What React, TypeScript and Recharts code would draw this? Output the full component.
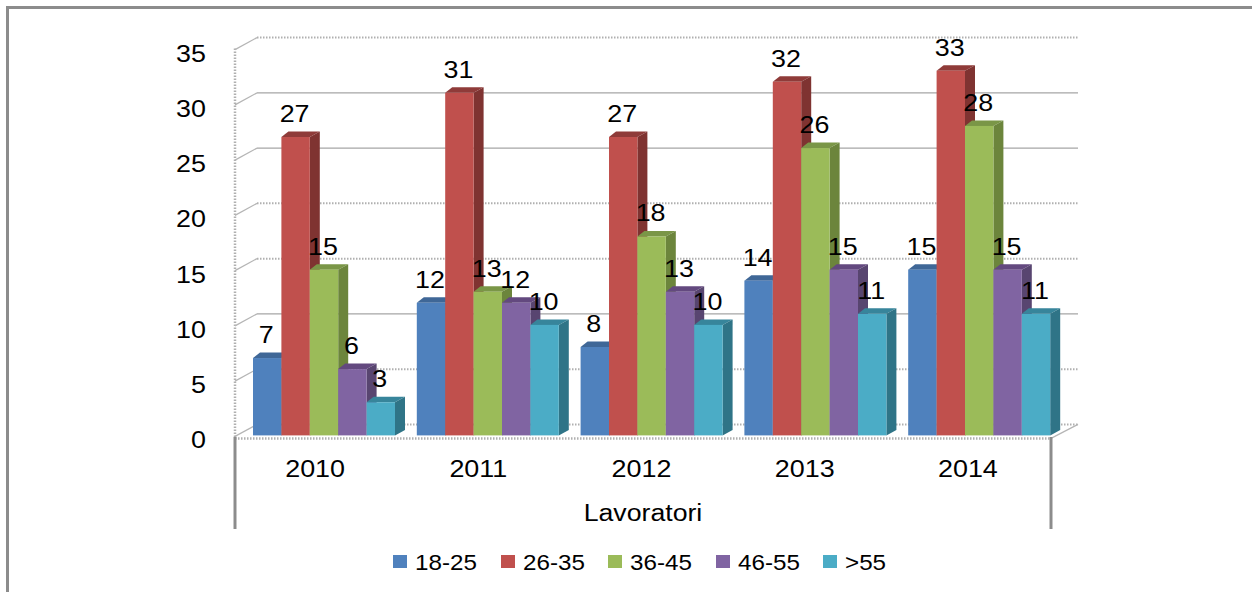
import { BarChart, Bar, XAxis, YAxis, CartesianGrid, LabelList, Legend, Label } from "recharts";

const years = ["2010", "2011", "2012", "2013", "2014"];
const age1825 = [7, 12, 8, 14, 15];
const age2635 = [27, 31, 27, 32, 33];
const age3645 = [15, 13, 18, 26, 28];
const age4655 = [6, 12, 13, 15, 15];
const over55 = [3, 10, 10, 11, 11];
const yTicks = [0, 5, 10, 15, 20, 25, 30, 35];
// gridlines that come out dotted in the original picture
const dottedTicks = [0, 5, 15, 20, 35];

const rows = years.map((year, i) => ({
  year,
  a: age1825[i],
  b: age2635[i],
  c: age3645[i],
  d: age4655[i],
  e: over55[i],
}));

const seriesList = [
  { key: "a", name: "18-25", fill: "#4f81bd", side: "#3a5f8c", top: "#3f6797" },
  { key: "b", name: "26-35", fill: "#c0504d", side: "#7f3331", top: "#8f3b39" },
  { key: "c", name: "36-45", fill: "#9bbb59", side: "#6c853c", top: "#7a9647" },
  { key: "d", name: "46-55", fill: "#8064a2", side: "#584570", top: "#63497f" },
  { key: "e", name: ">55", fill: "#4bacc6", side: "#2f7487", top: "#37859b" },
];

const FONT = "'Liberation Sans', Arial, sans-serif";
const DX = 22;
const DY = -11;
const WALL_LEFT = 235;
const WALL_RIGHT = 1051;
const PLOT_TOP = 48.6;
const PLOT_H = 386.8;
const GREY = "#8c8c8c";

function Stretched({ x, y, anchor, size = 24, stretch = 1.12, children }: any) {
  return (
    <text
      transform={`translate(${x},${y}) scale(${stretch},1)`}
      textAnchor={anchor}
      fontFamily={FONT}
      fontSize={size}
      fill="#000"
    >
      {children}
    </text>
  );
}

function Bar3D(props: any, s: any) {
  const { x, y, width, height } = props;
  const r = x + width;
  const b = y + height;
  return (
    <g>
      <polygon points={`${x},${y} ${x + 7},${y - 5.5} ${r + 10},${y - 5.5} ${r},${y}`} fill={s.top} />
      <polygon points={`${r},${y} ${r + 10},${y - 5.5} ${r + 10},${b - 5.5} ${r},${b}`} fill={s.side} />
      <rect x={x} y={y} width={width} height={height} fill={s.fill} />
    </g>
  );
}

function GridLine(props: any) {
  const { x1, y1 } = props;
  const value = Math.round(((PLOT_TOP + PLOT_H - y1) / PLOT_H) * 35);
  const dotted = dottedTicks.includes(value);
  const backY = y1 + DY;
  return (
    <g fill="none">
      <line x1={x1} y1={y1 + 1} x2={x1 + DX} y2={backY} stroke="#b5b5b5" strokeWidth={1.2} />
      <line
        x1={x1 + DX}
        y1={backY}
        x2={WALL_RIGHT + 27}
        y2={backY}
        stroke={dotted ? "#b0b0b0" : "#a6a6a6"}
        strokeWidth={dotted ? 2 : 1.2}
        strokeDasharray={dotted ? "1.5 1.5" : undefined}
      />
      {value === 0 && (
        <>
          <line x1={x1} y1={y1 + 3} x2={WALL_RIGHT} y2={y1 + 3} stroke="#b0b0b0" strokeWidth={2.5} strokeDasharray="1.5 1.5" />
          <line x1={WALL_RIGHT} y1={y1 + 3} x2={WALL_RIGHT + 27} y2={backY} stroke="#b5b5b5" strokeWidth={1.2} />
          <line x1={x1} y1={PLOT_TOP} x2={x1} y2={y1 + 3} stroke="#b0b0b0" strokeWidth={2.5} strokeDasharray="1.5 1.5" />
        </>
      )}
    </g>
  );
}

function YearTick({ x, payload, index }: any) {
  const half = (WALL_RIGHT - WALL_LEFT) / 10;
  return (
    <g>
      <Stretched x={x - 1.5} y={477} anchor="middle" size={23} stretch={1.17}>
        {payload.value}
      </Stretched>
      {index === 0 && <line x1={x - half} y1={437} x2={x - half} y2={529} stroke={GREY} strokeWidth={3} />}
      {index === years.length - 1 && <line x1={x + half} y1={437} x2={x + half} y2={529} stroke={GREY} strokeWidth={3} />}
    </g>
  );
}

function ValueTick({ x, y, payload }: any) {
  return (
    <Stretched x={x} y={y + 13} anchor="end">
      {payload.value}
    </Stretched>
  );
}

function ChartLegend({ payload }: any) {
  return (
    <div style={{ position: "relative", height: 24, fontFamily: FONT, fontSize: 22, color: "#000" }}>
      {(payload || []).map((item: any, i: number) => (
        <div key={item.value} style={{ position: "absolute", left: 393 + i * 107.5, top: 0, height: 24, whiteSpace: "nowrap" }}>
          <span style={{ position: "absolute", left: 0, top: 5, width: 14, height: 13, background: item.color }} />
          <span style={{ position: "absolute", left: 22, top: 1, lineHeight: "24px", transform: "scaleX(1.1)", transformOrigin: "left" }}>
            {item.value}
          </span>
        </div>
      ))}
    </div>
  );
}

export default function App() {
  return (
    <div style={{ position: "absolute", left: 0, top: 0, width: 1252, height: 592, overflow: "hidden", background: "#fff" }}>
      <div style={{ position: "absolute", left: 6, top: 6, right: -10, bottom: -10, borderLeft: `3px solid ${GREY}`, borderTop: `3px solid ${GREY}` }} />
      <BarChart
        width={1252}
        height={592}
        data={rows}
        barGap={0}
        barSize={28.4}
        margin={{ left: 175, right: 191, top: PLOT_TOP, bottom: 66.6 }}
        style={{ position: "absolute", left: 0, top: 0 }}
      >
        <CartesianGrid vertical={false} horizontal={(p: any) => <GridLine key={p.key} {...p} />} />
        <XAxis dataKey="year" hide padding={{ left: 7, right: 0 }} />
        <XAxis
          xAxisId="labels"
          dataKey="year"
          height={90}
          axisLine={false}
          tickLine={false}
          padding={{ left: 0, right: 10 }}
          tick={YearTick}
          interval={0}
        >
          <Label
            content={({ viewBox }: any) => (
              <Stretched x={viewBox.x + viewBox.width / 2 - 5} y={521} anchor="middle" size={23} stretch={1.16}>
                Lavoratori
              </Stretched>
            )}
          />
        </XAxis>
        <YAxis
          width={60}
          domain={[0, 35]}
          ticks={yTicks}
          interval={0}
          axisLine={false}
          tickLine={false}
          tickMargin={0}
          tick={(p: any) => <ValueTick {...p} x={206} />}
        />
        <Legend
          layout="horizontal"
          verticalAlign="middle"
          align="center"
          wrapperStyle={{ top: 550, left: 0, width: 1252 }}
          content={ChartLegend}
        />
        {seriesList.map((s) => (
          <Bar
            key={s.key}
            dataKey={s.key}
            name={s.name}
            fill={s.fill}
            isAnimationActive={false}
            shape={(p: any) => Bar3D(p, s)}
          >
            <LabelList
              dataKey={s.key}
              content={(p: any) => (
                <Stretched x={p.x + p.width / 2 - 1} y={p.y - 15} anchor="middle">
                  {p.value}
                </Stretched>
              )}
            />
          </Bar>
        ))}
      </BarChart>
    </div>
  );
}
